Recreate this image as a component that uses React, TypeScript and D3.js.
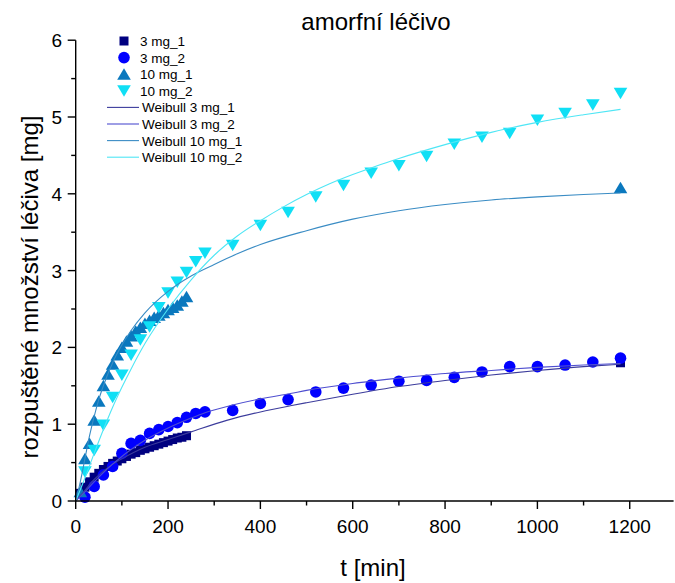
import React from 'react';
import * as d3 from 'd3';

const title = 'amorfní léčivo';
const xLabel = 't [min]';
const yLabel = 'rozpuštěné množství léčiva [mg]';
const xTicks = [0, 200, 400, 600, 800, 1000, 1200];
const xMinorTicks = [100, 300, 500, 700, 900, 1100];
const yTicks = [0, 1, 2, 3, 4, 5, 6];
const yMinorTicks = [0.5, 1.5, 2.5, 3.5, 4.5, 5.5];

const seriesNames = ['3 mg_1', '3 mg_2', '10 mg_1', '10 mg_2'];
const fitNames = ['Weibull 3 mg_1', 'Weibull 3 mg_2', 'Weibull 10 mg_1', 'Weibull 10 mg_2'];

const t3mg1 = [10, 20, 30, 40, 50, 60, 70, 80, 90, 100, 110, 120, 130, 140, 150, 160, 170, 180, 190, 200, 210, 220, 230, 240, 1180];
const v3mg1 = [0.10, 0.18, 0.25, 0.31, 0.36, 0.41, 0.45, 0.49, 0.52, 0.55, 0.58, 0.61, 0.63, 0.66, 0.68, 0.70, 0.72, 0.74, 0.76, 0.78, 0.80, 0.82, 0.83, 0.85, 1.80];

const t3mg2 = [20, 40, 60, 80, 100, 120, 140, 160, 180, 200, 220, 240, 260, 280, 340, 400, 460, 520, 580, 640, 700, 760, 820, 880, 940, 1000, 1060, 1120, 1180];
const v3mg2 = [0.05, 0.19, 0.34, 0.45, 0.62, 0.75, 0.79, 0.88, 0.93, 0.97, 1.02, 1.09, 1.14, 1.16, 1.18, 1.27, 1.32, 1.42, 1.47, 1.51, 1.56, 1.57, 1.61, 1.68, 1.75, 1.75, 1.77, 1.81, 1.86];

const t10mg1 = [10, 20, 30, 40, 50, 60, 70, 80, 90, 100, 110, 120, 130, 140, 150, 160, 170, 180, 190, 200, 210, 220, 230, 240, 1180];
const v10mg1 = [0.12, 0.55, 0.75, 1.05, 1.30, 1.50, 1.65, 1.78, 1.90, 2.00, 2.08, 2.15, 2.21, 2.26, 2.31, 2.35, 2.39, 2.42, 2.45, 2.49, 2.52, 2.55, 2.60, 2.66, 4.08];

const t10mg2 = [20, 40, 60, 80, 100, 120, 140, 160, 180, 200, 220, 240, 260, 280, 340, 400, 460, 520, 580, 640, 700, 760, 820, 880, 940, 1000, 1060, 1120, 1180];
const v10mg2 = [0.38, 0.66, 0.99, 1.35, 1.64, 1.90, 2.10, 2.27, 2.52, 2.71, 2.85, 2.98, 3.12, 3.23, 3.33, 3.59, 3.76, 3.96, 4.11, 4.27, 4.37, 4.49, 4.65, 4.74, 4.79, 4.96, 5.05, 5.16, 5.31];

// fitted Weibull curves
const tFit3mg1 = [0, 20, 40, 60, 80, 100, 150, 200, 250, 327, 400, 465, 500, 600, 700, 800, 900, 1000, 1100, 1180];
const vFit3mg1 = [0, 0.14, 0.28, 0.39, 0.48, 0.55, 0.70, 0.80, 0.90, 1.05, 1.16, 1.24, 1.28, 1.39, 1.49, 1.57, 1.64, 1.70, 1.75, 1.78];

const tFit3mg2 = [0, 20, 40, 60, 80, 100, 120, 150, 200, 250, 280, 340, 400, 465, 500, 600, 700, 800, 900, 1000, 1100, 1180];
const vFit3mg2 = [0, 0.12, 0.25, 0.37, 0.48, 0.58, 0.67, 0.79, 0.95, 1.08, 1.15, 1.25, 1.33, 1.40, 1.44, 1.53, 1.60, 1.66, 1.70, 1.74, 1.77, 1.79];

const tFit10mg1 = [0, 10, 20, 30, 40, 50, 60, 80, 100, 120, 150, 200, 250, 300, 350, 400, 500, 600, 700, 800, 900, 1000, 1100, 1180];
const vFit10mg1 = [0, 0.25, 0.55, 0.85, 1.10, 1.32, 1.50, 1.80, 2.03, 2.22, 2.45, 2.73, 2.93, 3.08, 3.22, 3.34, 3.52, 3.67, 3.78, 3.86, 3.92, 3.96, 3.99, 4.01];

const tFit10mg2 = [0, 20, 40, 60, 80, 100, 120, 150, 200, 250, 300, 350, 400, 450, 500, 550, 600, 650, 700, 800, 900, 1000, 1100, 1180];
const vFit10mg2 = [0, 0.30, 0.62, 0.93, 1.22, 1.48, 1.72, 2.05, 2.50, 2.88, 3.20, 3.45, 3.65, 3.83, 3.99, 4.13, 4.25, 4.36, 4.46, 4.64, 4.80, 4.93, 5.03, 5.10];

const markerColors = ['#000080', '#0000ff', '#0a78be', '#10dff5'];
const fitColors = ['#3c3c9c', '#4f4fd0', '#3a8cc4', '#4fe6f5'];

const FONT = 'Liberation Sans, Arial, sans-serif';

function Marker({ kind, x, y, color }: { kind: number; x: number; y: number; color: string }) {
  if (kind === 0) return <rect x={x - 4.5} y={y - 4.5} width={9} height={9} fill={color} />;
  if (kind === 1) return <circle cx={x} cy={y} r={5.8} fill={color} />;
  if (kind === 2)
    return <path d={`M${x},${y - 6} L${x + 6.8},${y + 5.5} L${x - 6.8},${y + 5.5} Z`} fill={color} />;
  return <path d={`M${x},${y + 6} L${x + 6.8},${y - 5.5} L${x - 6.8},${y - 5.5} Z`} fill={color} />;
}

export default function App() {
  const x = d3.scaleLinear().domain([0, 1295]).range([75.7, 75.7 + 1295 * 0.4617]);
  const y = d3.scaleLinear().domain([0, 6]).range([501, 40.2]);

  const data = [
    [t3mg1, v3mg1],
    [t3mg2, v3mg2],
    [t10mg1, v10mg1],
    [t10mg2, v10mg2],
  ];
  const fits = [
    [tFit3mg1, vFit3mg1],
    [tFit3mg2, vFit3mg2],
    [tFit10mg1, vFit10mg1],
    [tFit10mg2, vFit10mg2],
  ];
  const line = d3
    .line<[number, number]>()
    .x((d) => x(d[0]))
    .y((d) => y(d[1]))
    .curve(d3.curveMonotoneX);

  const x0 = x(0);
  const y0 = y(0);
  const legendY = (i: number) => 41 + 16.6 * i;

  return (
    <svg
      width={675}
      height={583}
      style={{ position: 'absolute', left: 0, top: 0, background: '#fff' }}
      fontFamily={FONT}
    >
      <rect width={675} height={583} fill="#fff" />
      {data.map(([ts, vs], k) => (
        <g key={'s' + k}>
          {ts.map((t, i) => (
            <Marker key={i} kind={k} x={x(t)} y={y(vs[i])} color={markerColors[k]} />
          ))}
        </g>
      ))}
      {fits.map(([ts, vs], k) => (
        <path
          key={'f' + k}
          d={line(ts.map((t, i) => [t, vs[i]] as [number, number])) || ''}
          fill="none"
          stroke={fitColors[k]}
          strokeWidth={1.1}
        />
      ))}
      <line x1={x0} x2={x(1295)} y1={y0} y2={y0} stroke="#000" strokeWidth={1.4} />
      <line x1={x0} x2={x0} y1={y0} y2={y(6)} stroke="#000" strokeWidth={1.4} />
      {xTicks.map((t) => (
        <g key={'xt' + t}>
          <line x1={x(t)} x2={x(t)} y1={y0} y2={y0 + 8} stroke="#000" strokeWidth={1.4} />
          <text x={x(t)} y={533} textAnchor="middle" fontSize={19}>
            {t}
          </text>
        </g>
      ))}
      {xMinorTicks.map((t) => (
        <line key={'xm' + t} x1={x(t)} x2={x(t)} y1={y0} y2={y0 + 4.5} stroke="#000" strokeWidth={1.4} />
      ))}
      {yTicks.map((v) => (
        <g key={'yt' + v}>
          <line x1={x0 - 8} x2={x0} y1={y(v)} y2={y(v)} stroke="#000" strokeWidth={1.4} />
          <text x={62} y={y(v) + 7} textAnchor="end" fontSize={19}>
            {v}
          </text>
        </g>
      ))}
      {yMinorTicks.map((v) => (
        <line key={'ym' + v} x1={x0 - 4.5} x2={x0} y1={y(v)} y2={y(v)} stroke="#000" strokeWidth={1.4} />
      ))}
      <text x={376} y={30} textAnchor="middle" fontSize={24}>
        {title}
      </text>
      <text x={373} y={576} textAnchor="middle" fontSize={24}>
        {xLabel}
      </text>
      <text transform={`translate(38,287) rotate(-90)`} textAnchor="middle" fontSize={24}>
        {yLabel}
      </text>
      {seriesNames.map((n, i) => (
        <g key={'l' + i}>
          <Marker kind={i} x={124} y={legendY(i)} color={markerColors[i]} />
          <text x={140} y={legendY(i) + 5} fontSize={13.5}>
            {n}
          </text>
        </g>
      ))}
      {fitNames.map((n, i) => (
        <g key={'lf' + i}>
          <line x1={107} x2={139} y1={legendY(i + 4)} y2={legendY(i + 4)} stroke={fitColors[i]} strokeWidth={1.1} />
          <text x={142} y={legendY(i + 4) + 5} fontSize={13.5}>
            {n}
          </text>
        </g>
      ))}
    </svg>
  );
}
